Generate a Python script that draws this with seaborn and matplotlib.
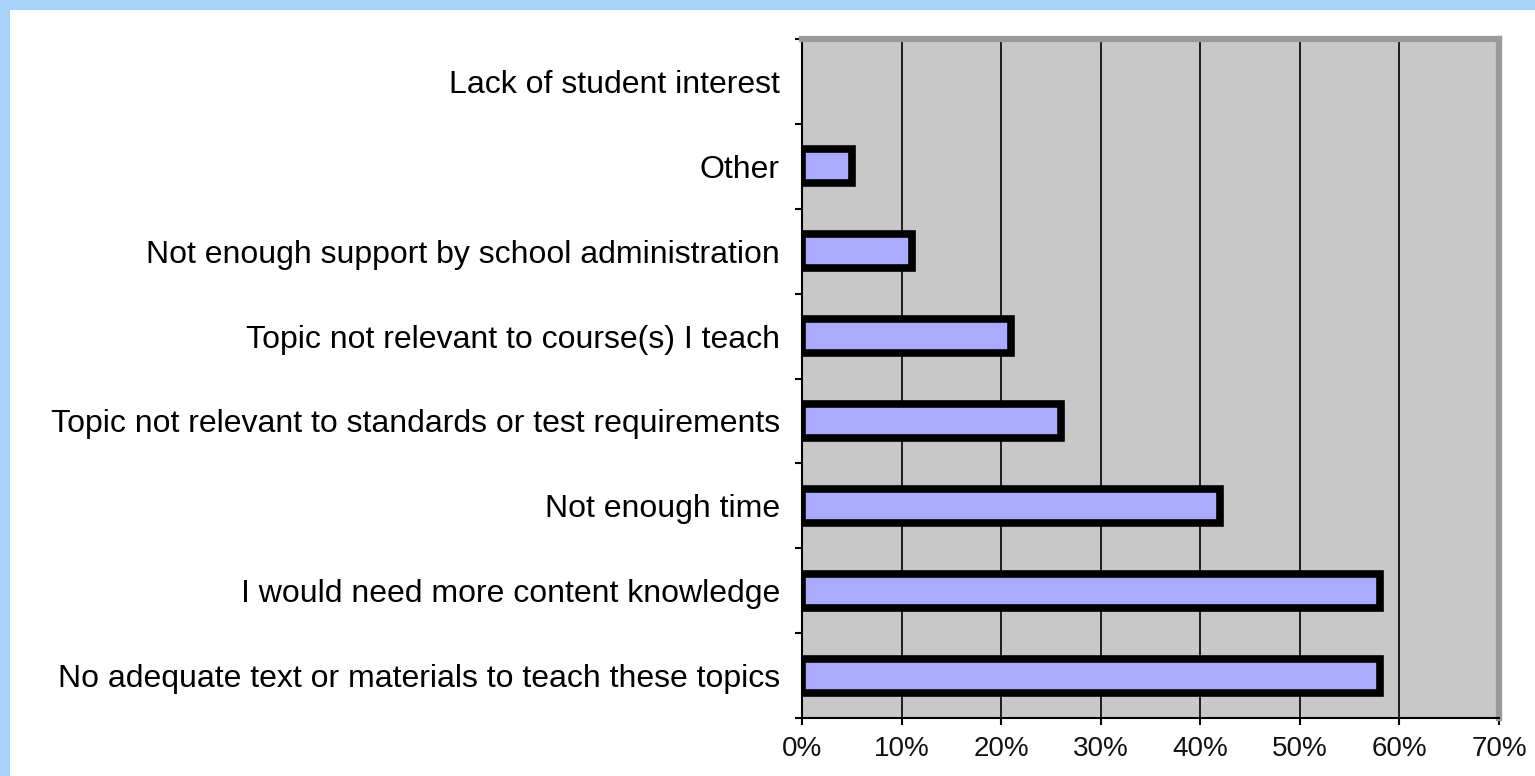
import matplotlib
matplotlib.use('Agg')
import matplotlib.pyplot as plt
import seaborn as sns
import pandas as pd
from matplotlib.patches import Rectangle

categories = [
    "Lack of student interest",
    "Other",
    "Not enough support by school administration",
    "Topic not relevant to course(s) I teach",
    "Topic not relevant to standards or test requirements",
    "Not enough time",
    "I would need more content knowledge",
    "No adequate text or materials to teach these topics",
]
values = [0, 5, 11, 21, 26, 42, 58, 58]
x_ticks = [0, 10, 20, 30, 40, 50, 60, 70]
x_tick_labels = ["0%", "10%", "20%", "30%", "40%", "50%", "60%", "70%"]

sns.set_theme(style="white")
plt.rcParams['font.family'] = ['Liberation Sans', 'DejaVu Sans']

W, H = 1535, 776
fig = plt.figure(figsize=(W / 100, H / 100), dpi=100)
fig.patch.set_facecolor('#a6d2fa')
fig.add_artist(Rectangle((10 / W, 0), 1, 1 - 10 / H, transform=fig.transFigure,
                         facecolor='white', edgecolor='none', zorder=-1))

x0, x1, yt, yb = 802, 1499, 39, 718
ax = fig.add_axes([x0 / W, 1 - yb / H, (x1 - x0) / W, (yb - yt) / H])
ax.set_facecolor('#c8c8c8')

df = pd.DataFrame({"reason": categories, "pct": values})
sns.barplot(data=df, x="pct", y="reason", orient="h", color="#aaaaff",
            saturation=1, edgecolor="black", linewidth=5.5, width=0.4, ax=ax)
for p in ax.patches:
    if p.get_width() == 0:
        p.set_linewidth(0)

ax.set_xlim(0, 70)
ax.set_axisbelow(True)
ax.grid(axis='x', color='black', linewidth=1.2)
ax.grid(axis='y', visible=False)

ax.set_xticks(x_ticks, labels=x_tick_labels)
ax.tick_params(axis='x', bottom=True, direction='out', length=5, width=1.5,
               color='black', labelsize=20, pad=8, labelcolor='#111111')
ax.tick_params(axis='y', which='major', left=False, length=0, labelsize=23,
               pad=16, labelcolor='#000000')
ax.set_yticks([i - 0.5 for i in range(len(categories) + 1)], minor=True)
ax.tick_params(axis='y', which='minor', left=True, direction='out', length=5,
               width=1.5, color='black')

for s in ['left', 'bottom']:
    ax.spines[s].set_color('black')
    ax.spines[s].set_linewidth(1.5)
for s in ['top', 'right']:
    ax.spines[s].set_color('#999999')
    ax.spines[s].set_linewidth(4.5)

ax.set_xlabel("")
ax.set_ylabel("")

fig.savefig("out.png", dpi=100, facecolor=fig.get_facecolor())
